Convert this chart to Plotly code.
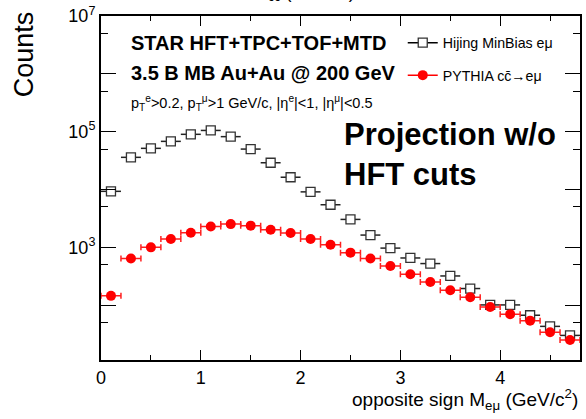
import plotly.graph_objects as go

# ---- data ----
mass = [0.1, 0.3, 0.5, 0.7, 0.9, 1.1, 1.3, 1.5, 1.7, 1.9, 2.1, 2.3,
        2.5, 2.7, 2.9, 3.1, 3.3, 3.5, 3.7, 3.9, 4.1, 4.3, 4.5, 4.7]
hijing = [9300, 36000, 51500, 68000, 90000, 105000, 82000, 50000, 29000, 16300, 9100, 5450,
          3040, 1630, 970, 655, 524, 320, 194, 101, 101, 67, 43, 30]
pythia = [145, 640, 1000, 1390, 1790, 2300, 2520, 2370, 2020, 1770, 1390, 1110,
          810, 640, 476, 342, 252, 181, 137, 93, 70, 54, 34, 25]
bin_half_width = 0.1

y_major = [1e1, 1e2, 1e3, 1e4, 1e5, 1e6, 1e7]
y_major_text = ["", "", "10<sup>3</sup>", "", "10<sup>5</sup>", "", "10<sup>7</sup>"]
y_minor = [50, 500, 5000, 5e4, 5e5, 5e6]
x_major = [0, 1, 2, 3, 4]
x_minor = [0.5, 1.5, 2.5, 3.5, 4.5]

FONT = "Liberation Sans, Arial, Helvetica, sans-serif"
W, H = 586, 419
L, R, T, B = 101, 582, 15, 360


def px(x):
    return (x - L) / (R - L)


def py(y):
    return (B - y) / (B - T)


fig = go.Figure()
fig.add_trace(go.Scatter(
    x=mass, y=hijing, mode="markers", showlegend=False,
    marker=dict(symbol="square", size=9, color="white", line=dict(color="#333333", width=1.3)),
    error_x=dict(type="constant", value=bin_half_width, width=0, color="#222222", thickness=1.5),
))
fig.add_trace(go.Scatter(
    x=mass, y=pythia, mode="markers", showlegend=False,
    marker=dict(symbol="circle", size=10, color="#ff0000"),
    error_x=dict(type="constant", value=bin_half_width, width=3, color="#ff2020", thickness=1.5),
))
# legend entries
fig.add_trace(go.Scatter(
    x=[None], y=[None], mode="lines+markers", name="Hijing MinBias eμ", legendgroup="a",
    marker=dict(symbol="square", size=9, color="white", line=dict(color="#333333", width=1.3)),
    line=dict(color="black", width=1.5),
))
fig.add_trace(go.Scatter(
    x=[None], y=[None], mode="lines+markers", name="PYTHIA cc̄→eμ", legendgroup="b",
    marker=dict(symbol="circle", size=10, color="#ff0000"),
    line=dict(color="#ff0000", width=1.5),
))

axis_common = dict(
    showline=True, linewidth=2, linecolor="black", mirror="ticks",
    ticks="inside", tickcolor="black", tickwidth=1,
    showgrid=False, zeroline=False,
    tickfont=dict(family=FONT, size=18, color="black"),
)

fig.update_layout(
    width=W, height=H, autosize=False,
    margin=dict(l=L, r=W - R, t=T, b=H - B, pad=0),
    paper_bgcolor="white", plot_bgcolor="white",
    font=dict(family=FONT, color="black"),
    xaxis=dict(range=[0, 4.8], tickvals=x_major, ticklen=10,
               minor=dict(tickvals=x_minor, ticklen=5, ticks="inside", tickcolor="black"),
               **axis_common),
    yaxis=dict(type="log", range=[1.052, 7], tickvals=y_major, ticktext=y_major_text, ticklen=15,
               minor=dict(tickvals=y_minor, ticklen=7, ticks="inside", tickcolor="black"),
               **axis_common),
    legend=dict(x=px(404), y=py(26), xanchor="left", yanchor="top",
                bgcolor="rgba(0,0,0,0)", font=dict(family=FONT, size=14.2, color="black"),
                traceorder="grouped", tracegroupgap=11, itemwidth=30),
)

ann = [
    dict(text="<b>STAR HFT+TPC+TOF+MTD</b>", x=px(129), y=py(42), size=20, xanchor="left"),
    dict(text="<b>3.5 B MB Au+Au @ 200 GeV</b>", x=px(129), y=py(72), size=20, xanchor="left"),
    dict(text="p<sub>T</sub><sup>e</sup>&gt;0.2, p<sub>T</sub><sup>μ</sup>&gt;1 GeV/c, |η<sup>e</sup>|&lt;1, |η<sup>μ</sup>|&lt;0.5",
         x=px(129), y=py(102), size=14.5, xanchor="left"),
    dict(text="<b>Projection w/o<br>HFT cuts</b>", x=px(343), y=py(154), size=31, xanchor="left"),
    dict(text="opposite sign M<sub>eμ</sub> (GeV/c<sup>2</sup>)", x=px(582), y=py(400), size=19, xanchor="right"),
    dict(text="M<sub>cc̄</sub> (GeV/c<sup>2</sup>)", x=px(252), y=py(-10), size=18, xanchor="left"),
]
for a in ann:
    fig.add_annotation(text=a["text"], x=a["x"], y=a["y"], xref="paper", yref="paper",
                       xanchor=a["xanchor"], yanchor="middle", align="left", showarrow=False,
                       font=dict(family=FONT, size=a["size"], color="black"))
fig.add_annotation(text="Counts", x=px(24), y=py(53), xref="paper", yref="paper",
                   textangle=-90, showarrow=False, xanchor="center", yanchor="middle",
                   font=dict(family=FONT, size=27, color="black"))

fig.write_html("out.html")
